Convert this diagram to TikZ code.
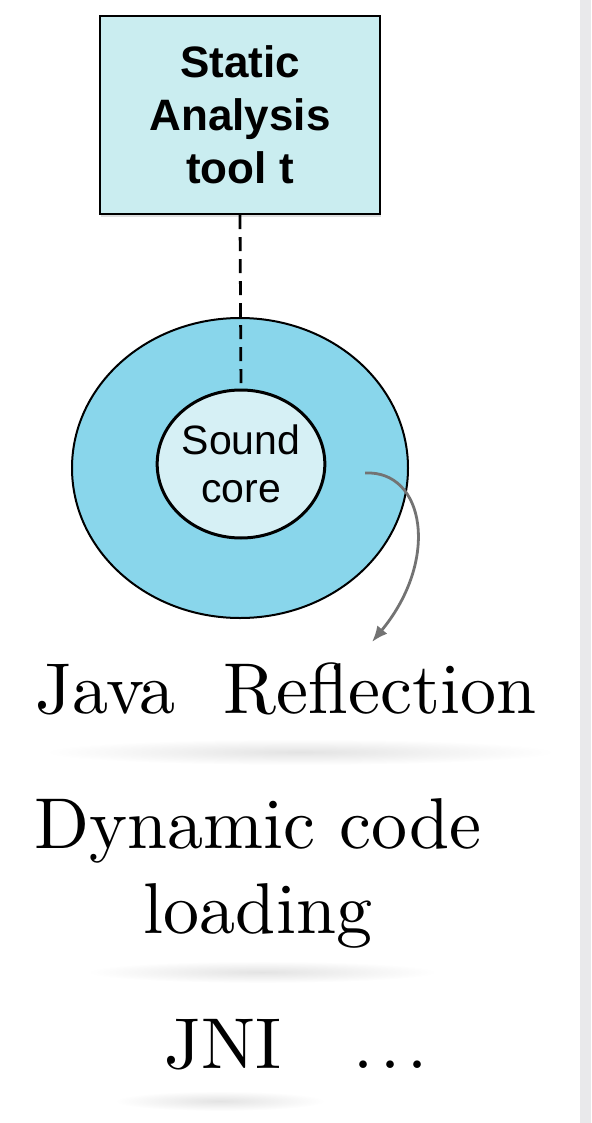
\documentclass[tikz,border=0pt]{standalone}
\usepackage{fontspec}
\newfontfamily\helvfont{Liberation Sans}
\newfontfamily\cmtenfont{lmroman10-regular}[Extension=.otf]
\usepackage{tikz}
\usetikzlibrary{positioning,shapes.geometric,arrows.meta,shadows}
\definecolor{toolCyan}{RGB}{202,237,240}
\definecolor{ringBlue}{RGB}{137,214,235}
\definecolor{coreCyan}{RGB}{214,240,245}
\definecolor{arrowGray}{RGB}{115,115,115}
\definecolor{stripGray}{RGB}{233,233,235}
\newcommand{\spacedots}{.\kern0.1em.\kern0.1em.}
\tikzset{
  toolbox/.style={rectangle,draw=black,line width=2.4pt,fill=toolCyan,
    minimum width=280pt,minimum height=198pt,align=center,
    font=\helvfont\bfseries\fontsize{44}{53}\selectfont,
    drop shadow={opacity=0.25,shadow xshift=1pt,shadow yshift=-3pt}},
  ring/.style={ellipse,draw=black,line width=2pt,fill=ringBlue,
    minimum width=336pt,minimum height=300pt},
  corebox/.style={ellipse,draw=black,line width=3pt,fill=coreCyan,
    minimum width=163pt,minimum height=148pt,inner sep=0pt,align=center,
    font=\helvfont\fontsize{41}{48}\selectfont},
  dashline/.style={draw=black,line width=2.8pt,dash pattern=on 14pt off 8pt},
  curvearrow/.style={-{Latex[length=16pt,width=13pt]},draw=arrowGray,line width=2.8pt},
  bigtext/.style={anchor=base,inner sep=0pt,align=center,
    font=\cmtenfont\fontsize{72}{85}\selectfont},
  softshadow/.style={inner color=black!11,outer color=white}
}
\begin{document}
\begin{tikzpicture}[x=1pt,y=-1pt]
  \useasboundingbox (0,0) rectangle (591,1123);
  \fill[stripGray] (580,0) rectangle (591,1123);
  % soft shadows under the text lines
  \shade[softshadow] (300,752) ellipse [x radius=255, y radius=13];
  \shade[softshadow] (262,972) ellipse [x radius=175, y radius=11];
  \shade[softshadow] (220,1101) ellipse [x radius=105, y radius=10];

  \node[toolbox] (tool) at (240,115) {Static\\Analysis\\tool t};
  \node[ring] (ring) at (240,468) {};
  \node[corebox] (core) at (241,464) {Sound\\core};
  \draw[dashline] (tool.south) -- (core.north);

  \node[bigtext] (java) at (286,713) {Java\hspace{48pt}Reflection};
  \node[bigtext] (dyn) at (258,933) {Dynamic code\\loading};
  \node[bigtext] (jni) at (296,1068) {JNI\hspace{72pt}\spacedots};

  \coordinate (arrStart) at (365,473);
  \coordinate (arrTip) at (372,642);
  \draw[curvearrow] (arrStart) .. controls (425,470) and (440,560) .. (arrTip);
\end{tikzpicture}
\end{document}
